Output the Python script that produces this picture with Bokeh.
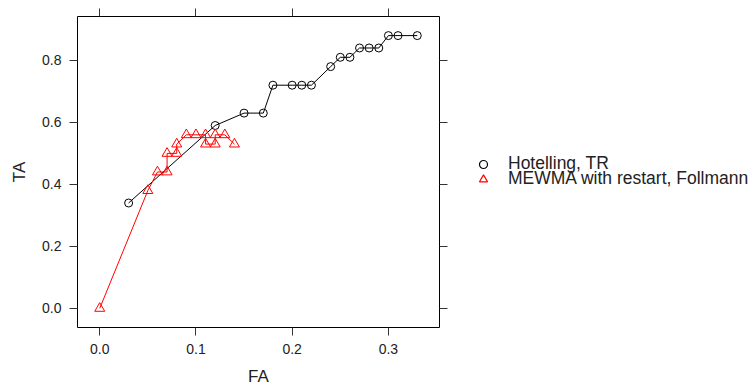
from bokeh.plotting import figure
from bokeh.layouts import row
from bokeh.models import LinearAxis, FixedTicker, PrintfTickFormatter, Range1d, Legend, LegendItem, CustomJSTickFormatter
from bokeh.embed import file_html
from bokeh.resources import INLINE

# Hotelling, TR
hot_fa = [0.03, 0.12, 0.15, 0.17, 0.18, 0.20, 0.21, 0.22, 0.24, 0.25, 0.26, 0.27, 0.28, 0.29, 0.30, 0.31, 0.33]
hot_ta = [0.34, 0.59, 0.63, 0.63, 0.72, 0.72, 0.72, 0.72, 0.78, 0.81, 0.81, 0.84, 0.84, 0.84, 0.88, 0.88, 0.88]

# MEWMA with restart, Follmann
mew_fa = [0.00, 0.05, 0.06, 0.07, 0.07, 0.08, 0.08, 0.09, 0.10, 0.11, 0.11, 0.12, 0.12, 0.13, 0.14]
mew_ta = [0.00, 0.38, 0.44, 0.44, 0.50, 0.50, 0.53, 0.56, 0.56, 0.56, 0.53, 0.53, 0.56, 0.56, 0.53]

x_ticks = [0.0, 0.1, 0.2, 0.3]
y_ticks = [0.0, 0.2, 0.4, 0.6, 0.8]
series_names = ["Hotelling, TR", "MEWMA with restart, Follmann"]

FONT = "Liberation Sans"

p = figure(frame_width=362, frame_height=311, output_backend="svg", toolbar_location=None,
           x_range=Range1d(-0.0231, 0.3531), y_range=Range1d(-0.0616, 0.9416),
           min_border_left=77, min_border_right=20, min_border_top=16, min_border_bottom=63,
           x_axis_location=None, y_axis_location=None)
p.grid.visible = False
p.outline_line_color = "black"
p.outline_line_width = 1
p.background_fill_color = "white"
p.border_fill_color = "white"

blank = CustomJSTickFormatter(code="return '';")

def style_axis(ax, labels=True):
    ax.axis_line_color = None
    ax.major_tick_in = 0
    ax.major_tick_out = 8
    ax.major_tick_line_color = "#333333"
    ax.minor_tick_line_color = None
    ax.major_label_text_font = FONT
    ax.major_label_text_color = "#222222"
    ax.major_label_text_font_size = "14px"
    ax.major_label_standoff = 8
    if not labels:
        ax.formatter = blank
        ax.major_label_standoff = 0
    ax.axis_label_text_font = FONT
    ax.axis_label_text_font_style = "normal"
    ax.axis_label_text_font_size = "17px"
    ax.axis_label_text_color = "#222222"

xb = LinearAxis(ticker=FixedTicker(ticks=x_ticks), formatter=PrintfTickFormatter(format="%.1f"), axis_label="FA")
xt = LinearAxis(ticker=FixedTicker(ticks=x_ticks))
yl = LinearAxis(ticker=FixedTicker(ticks=y_ticks), formatter=PrintfTickFormatter(format="%.1f"), axis_label="TA")
yr = LinearAxis(ticker=FixedTicker(ticks=y_ticks))
style_axis(xb); style_axis(yl)
style_axis(xt, False); style_axis(yr, False)
xb.axis_label_standoff = 10
yl.axis_label_standoff = 10
p.add_layout(xb, "below")
p.add_layout(xt, "above")
p.add_layout(yl, "left")
p.add_layout(yr, "right")

p.line(hot_fa, hot_ta, line_color="black", line_width=1)
p.scatter(hot_fa, hot_ta, marker="circle", size=8, fill_color=None, line_color="black", line_width=1)
p.line(mew_fa, mew_ta, line_color="red", line_width=1)
p.scatter(mew_fa, mew_ta, marker="triangle", size=10, fill_color=None, line_color="red", line_width=1)

# legend panel to the right of the plot box (its key glyphs sit outside its visible range)
p2 = figure(width=753 - (77 + 362 + 20), height=390, output_backend="svg", toolbar_location=None,
            x_range=Range1d(5, 6), y_range=Range1d(5, 6), min_border=0,
            x_axis_location=None, y_axis_location=None)
p2.grid.visible = False
p2.outline_line_color = None
p2.background_fill_color = "white"
p2.border_fill_color = "white"
k1 = p2.scatter(hot_fa[:1], hot_ta[:1], marker="circle", size=9, fill_color=None, line_color="black", line_width=1.2)
k2 = p2.scatter(mew_fa[:1], mew_ta[:1], marker="triangle", size=13, fill_color=None, line_color="red", line_width=1.2)

def make_legend(label, rend, ypos):
    lg = Legend(items=[LegendItem(label=label, renderers=[rend])], location=(14, ypos))
    lg.border_line_color = None
    lg.background_fill_alpha = 0
    lg.label_text_font = FONT
    lg.label_text_font_size = "17.5px"
    lg.label_text_color = "#222222"
    lg.glyph_width = 20
    lg.glyph_height = 20
    lg.label_height = 20
    lg.label_standoff = 15
    lg.spacing = 0
    lg.padding = 0
    lg.margin = 0
    return lg

p2.add_layout(make_legend(series_names[0], k1, 153), "center")
p2.add_layout(make_legend(series_names[1], k2, 138), "center")

open("out.html", "w").write(file_html(row(p, p2), INLINE))
